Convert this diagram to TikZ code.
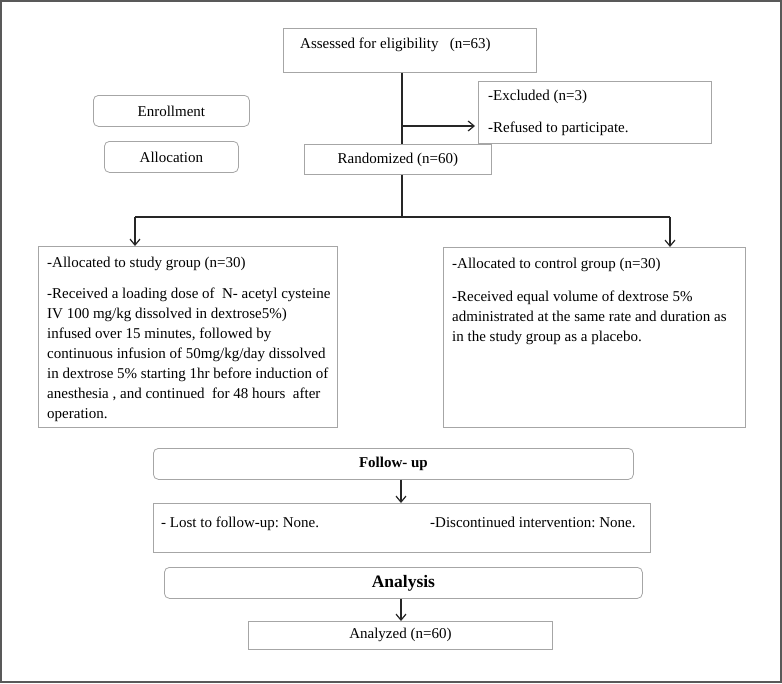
\documentclass[tikz,border=0pt]{standalone}
\usepackage{fontspec}
\setmainfont{Liberation Serif}
\frenchspacing
\usetikzlibrary{positioning,calc,arrows.meta}

\tikzset{
	box/.style={draw=black!35, line width=0.8pt, inner sep=0pt, anchor=north west},
	rbox/.style={box, rounded corners=5pt},
	txt/.style={inner sep=0pt, anchor=north west, align=left, font=\fontsize{15}{20}\selectfont},
	link/.style={line width=1.4pt, black!85},
	arr/.style={link, -{Straight Barb[length=6pt,width=10pt,line width=1.2pt]}}
}

\begin{document}
\begin{tikzpicture}[x=1pt,y=-1pt]
	\useasboundingbox (0,0) rectangle (782,683);
	\draw[black!65, line width=2pt] (1,1) rectangle (781,682);
	% enrollment
	\node[box, minimum width=253pt, minimum height=44pt] (assess) at (283,28) {};
	\node[txt] (assesstxt) at (300,37.5) {Assessed for eligibility \ \ (n=63)};
	\node[box, minimum width=233pt, minimum height=62pt] (excl) at (478,81) {};
	\node[txt] (excltxt) at (488,89.5) {-Excluded (n=3)\\[12pt]-Refused to participate.};
	\node[rbox, minimum width=156pt, minimum height=31pt, font=\fontsize{15}{17}\selectfont] (enroll) at (93,95) {Enrollment};
	\node[rbox, minimum width=134pt, minimum height=31pt, font=\fontsize{15}{17}\selectfont] (alloc) at (104,141) {Allocation};
	\node[box, minimum width=187pt, minimum height=30pt, font=\fontsize{15}{17}\selectfont] (rand) at (304,144) {Randomized (n=60)};
	\coordinate (top) at (assess.south -| 402,0);
	\coordinate (split) at (402,126);
	\coordinate (exclin) at (excl.west |- split);
	\draw[link] (top) -- (rand.north -| top);
	\draw[arr] (split) -- ([xshift=-3pt]exclin);
	% allocation
	\node[box, minimum width=299pt, minimum height=181pt] (study) at (38,246) {};
	\node[txt] (studytxt) at (47,256.5) {-Allocated to study group (n=30)\\[11pt]
		-Received a loading dose of \ N- acetyl cysteine\\
		IV 100 mg/kg dissolved in dextrose5\%)\\
		infused over 15 minutes, followed by\\
		continuous infusion of 50mg/kg/day dissolved\\
		in dextrose 5\% starting 1hr before induction of\\
		anesthesia , and continued \ for 48 hours \ after\\
		operation.};
	\node[box, minimum width=302pt, minimum height=180pt] (control) at (443,247) {};
	\node[txt] (controltxt) at (452,257.5) {-Allocated to control group (n=30)\\[13pt]
		-Received equal volume of dextrose 5\%\\
		administrated at the same rate and duration as\\
		in the study group as a placebo.};
	\coordinate (fork) at (rand.south -| top);
	\coordinate (forkl) at (135,217);
	\coordinate (forkr) at (670,217);
	\draw[link] (fork) -- (fork |- forkl);
	\draw[link] (forkl) -- (forkr);
	\draw[arr] (forkl) -- (study.north -| forkl);
	\draw[arr] (forkr) -- (control.north -| forkr);
	% follow-up
	\node[rbox, minimum width=480pt, minimum height=31pt, font=\bfseries\fontsize{15}{17}\selectfont] (follow) at (153,448) {Follow- up};
	\node[box, minimum width=497pt, minimum height=49pt] (lost) at (153,503) {};
	\node[txt] (losttxt) at (161,516.5) {- Lost to follow-up: None.};
	\node[txt] (disctxt) at (430,516.5) {-Discontinued intervention: None.};
	\draw[arr] (follow.south -| 401,0) -- (lost.north -| 401,0);
	% analysis
	\node[rbox, minimum width=478pt, minimum height=31pt, font=\bfseries\fontsize{17.5}{19}\selectfont] (analysis) at (164,567) {Analysis};
	\node[box, minimum width=304pt, minimum height=28pt, font=\fontsize{15}{17}\selectfont] (analyzed) at (248,621) {Analyzed (n=60)};
	\draw[arr] (analysis.south -| 401,0) -- (analyzed.north -| 401,0);
\end{tikzpicture}
\end{document}
